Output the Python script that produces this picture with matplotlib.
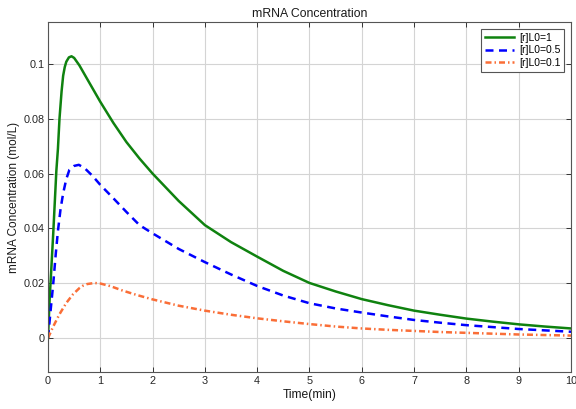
import matplotlib
matplotlib.use("Agg")
import matplotlib.pyplot as plt

plt.rcParams['font.family'] = ['Liberation Sans', 'DejaVu Sans']

# mRNA concentration vs time for three initial ligand levels
t_high = [0, 0.03, 0.06, 0.1, 0.16, 0.19, 0.22, 0.26, 0.29, 0.32, 0.35, 0.40, 0.45, 0.5, 0.6,
          0.75, 1.0, 1.25, 1.5, 1.75, 2.0, 2.5, 3.0, 3.5, 4.0, 4.5, 5.0, 5.5, 6.0,
          6.5, 7.0, 7.5, 8.0, 8.5, 9.0, 9.5, 10]
c_high = [0, 0.0136, 0.024, 0.038, 0.061, 0.069, 0.080, 0.090, 0.0957, 0.0988, 0.1008, 0.1024,
          0.1028, 0.1022, 0.0995, 0.0945, 0.0862, 0.0785, 0.0715, 0.0655, 0.0600,
          0.0500, 0.0412, 0.0350, 0.0297, 0.0245, 0.0201, 0.0170, 0.0142, 0.0120,
          0.0100, 0.0085, 0.0071, 0.0060, 0.0050, 0.0042, 0.0035]

t_mid = [0, 0.05, 0.1, 0.15, 0.19, 0.24, 0.29, 0.35, 0.41, 0.5, 0.59, 0.7, 0.85, 1.0,
         1.25, 1.5, 1.75, 2.0, 2.5, 3.0, 3.5, 4.0, 4.5, 5.0, 5.5, 6.0, 6.5, 7.0,
         7.5, 8.0, 8.5, 9.0, 9.5, 10]
c_mid = [0, 0.010, 0.0197, 0.031, 0.039, 0.047, 0.0528, 0.058, 0.0614, 0.0628, 0.0632,
         0.0620, 0.0592, 0.0559, 0.0510, 0.0460, 0.0412, 0.0382, 0.0325, 0.0277,
         0.0232, 0.0190, 0.0155, 0.0127, 0.0108, 0.0093, 0.0079, 0.0066, 0.0056,
         0.0047, 0.0040, 0.0033, 0.0028, 0.0023]

t_low = [0, 0.1, 0.22, 0.35, 0.48, 0.6, 0.67, 0.75, 0.89, 1.0, 1.2, 1.43, 1.7, 2.0,
         2.5, 3.0, 3.5, 4.0, 4.5, 5.0, 5.5, 6.0, 6.5, 7.0, 7.5, 8.0, 8.5, 9.0, 9.5, 10]
c_low = [0, 0.0042, 0.0087, 0.0128, 0.016, 0.0182, 0.0191, 0.0197, 0.0201, 0.0199,
         0.0189, 0.0173, 0.0157, 0.0141, 0.0118, 0.0100, 0.0085, 0.0072, 0.0061,
         0.0051, 0.0042, 0.0035, 0.0030, 0.0026, 0.0022, 0.0019, 0.0016, 0.0013,
         0.0011, 0.0009]

labels = ['[r]L0=1', '[r]L0=0.5', '[r]L0=0.1']
x_ticks = list(range(0, 11))
y_ticks = [0, 0.02, 0.04, 0.06, 0.08, 0.1]
y_tick_labels = ['0', '0.02', '0.04', '0.06', '0.08', '0.1']

fig = plt.figure(figsize=(5.76, 4.09), dpi=100)
ax = fig.add_axes([0.0833, 0.0897, 0.9080, 0.8558])

lw = 1.8
ax.plot(t_high, c_high, color='#0f820f', lw=lw, label=labels[0])
ax.plot(t_mid, c_mid, color='#0000ff', lw=lw, dashes=(3.2, 2.2), label=labels[1])
ax.plot(t_low, c_low, color='#fa6e37', lw=lw, dashes=(2.4, 1.2, 0.6, 1.2), label=labels[2])

ax.set_xlim(0, 10)
ax.set_ylim(-0.0125, 0.1152)
ax.set_xticks(x_ticks)
ax.set_xticklabels([str(v) for v in x_ticks])
ax.set_yticks(y_ticks)
ax.set_yticklabels(y_tick_labels)

ax.grid(True, color='#d4d4d4', lw=0.8)
ax.set_axisbelow(True)
for s in ax.spines.values():
    s.set_color('#555555')
    s.set_linewidth(0.8)
ax.tick_params(direction='in', top=True, right=True, length=3.5, width=0.7,
               labelsize=7.8, colors='#333333', labelcolor='#262626', pad=2.5)

ax.set_title('mRNA Concentration', fontsize=8.8, color='#1a1a1a', pad=4)
ax.set_xlabel('Time(min)', fontsize=8.7, color='#1a1a1a', labelpad=2)
ax.set_ylabel('mRNA Concentration (mol/L)', fontsize=8.5, color='#1a1a1a', labelpad=2.5)

leg = ax.legend(loc='upper right', fontsize=7.5, handlelength=2.8, handletextpad=0.5,
                borderpad=0.35, labelspacing=0.25, fancybox=False, framealpha=1,
                edgecolor='#555555', borderaxespad=0.65)
leg.get_frame().set_linewidth(0.8)

fig.savefig('out.png', dpi=100)
